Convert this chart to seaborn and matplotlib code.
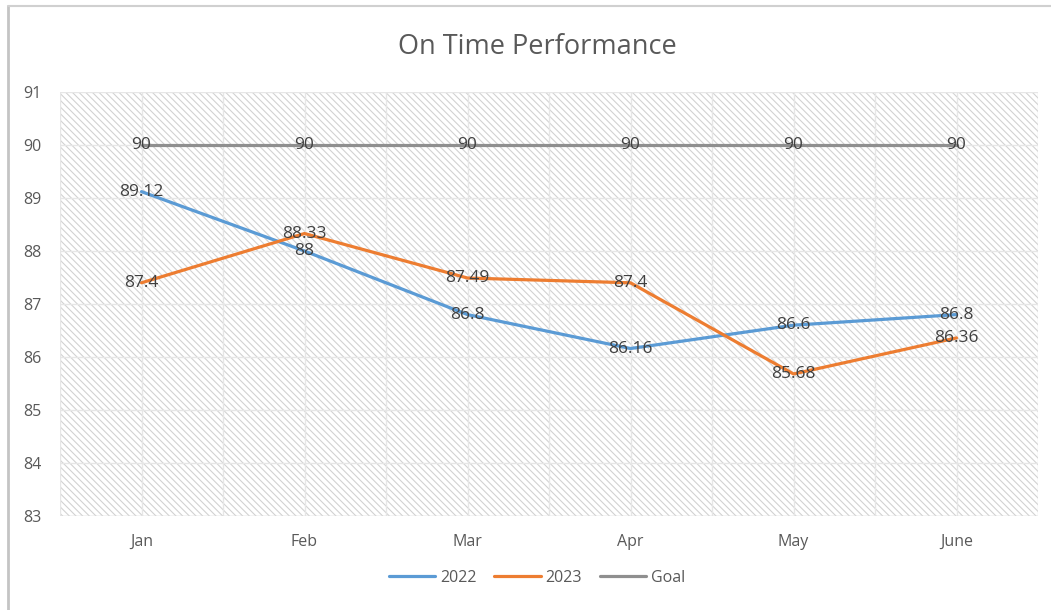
import numpy as np
import pandas as pd
import matplotlib.pyplot as plt
import seaborn as sns
from matplotlib.lines import Line2D
from matplotlib.patches import Rectangle

# data
months = ['Jan', 'Feb', 'Mar', 'Apr', 'May', 'June']
otp_2022 = [89.12, 88, 86.8, 86.16, 86.6, 86.8]
otp_2023 = [87.4, 88.33, 87.49, 87.4, 85.68, 86.36]
goal = [90, 90, 90, 90, 90, 90]
y_ticks = [83, 84, 85, 86, 87, 88, 89, 90, 91]

df = pd.DataFrame({
    'Month': months * 3,
    'Value': otp_2022 + otp_2023 + goal,
    'Series': ['2022'] * 6 + ['2023'] * 6 + ['Goal'] * 6,
})
df['pos'] = np.tile(np.arange(len(months)), 3)

palette = {'2022': '#5B9BD5', '2023': '#ED7D31', 'Goal': '#8F8F8F'}

sns.set_style('white')
plt.rcParams['font.family'] = ['Open Sans', 'DejaVu Sans']
plt.rcParams['hatch.linewidth'] = 0.8

fig = plt.figure(figsize=(10.51, 6.10), dpi=100)
ax = fig.add_axes([60 / 1051, 1 - 516 / 610, 978 / 1051, 424 / 610])

# hatched plot area
ax.patch.set_facecolor('white')
ax.add_patch(Rectangle((0, 0), 1, 1, transform=ax.transAxes, facecolor='white',
                       edgecolor='#d2d2d2', hatch='\\' * 5, linewidth=0, zorder=0))

sns.lineplot(data=df, x='pos', y='Value', hue='Series', palette=palette,
             linewidth=2.3, ax=ax, legend=False, zorder=3)

# data labels centred on the points
for _, row in df.iterrows():
    ax.text(row['pos'], row['Value'], f"{row['Value']:g}", ha='center', va='center',
            fontsize=12.5, color='#404040', zorder=4)

ax.set_xlim(-0.5, len(months) - 0.5)
ax.set_ylim(y_ticks[0], y_ticks[-1])
ax.set_yticks(y_ticks)
ax.set_xticks(range(len(months)))
ax.set_xticklabels(months)
ax.set_xticks(np.arange(-0.5, len(months), 1.0), minor=True)
ax.tick_params(axis='both', which='both', length=0, labelsize=11.5, labelcolor='#595959')
ax.tick_params(axis='y', pad=13)
ax.tick_params(axis='x', pad=13)
ax.grid(True, which='major', color='#e6e6e6', linewidth=1, zorder=1)
ax.grid(True, which='minor', axis='x', color='#e6e6e6', linewidth=1, zorder=1)
ax.set_axisbelow(True)
ax.set_xlabel('')
ax.set_ylabel('')
for s in ax.spines.values():
    s.set_visible(False)
ax.axhline(y_ticks[0], color='#d9d9d9', linewidth=1, zorder=2)

fig.text(537 / 1051, 1 - 47 / 610, 'On Time Performance', ha='center', va='center',
         fontsize=19.5, color='#595959')

handles = [Line2D([], [], color=palette[k], linewidth=2.3) for k in palette]
fig.legend(handles, list(palette.keys()), loc='center', bbox_to_anchor=(537 / 1051, 1 - 578 / 610),
           ncol=3, frameon=False, fontsize=11.5, handlelength=2.9, handletextpad=0.3,
           columnspacing=1.1, labelcolor='#595959')

# screenshot frame on left and top
fig.add_artist(Line2D([8 / 1051, 8 / 1051], [0, 1 - 6 / 610], transform=fig.transFigure,
                      color='#c4c4c4', linewidth=2))
fig.add_artist(Line2D([8 / 1051, 1], [1 - 6 / 610, 1 - 6 / 610], transform=fig.transFigure,
                      color='#d0d0d0', linewidth=1.5))

fig.savefig('out.png', dpi=100)
